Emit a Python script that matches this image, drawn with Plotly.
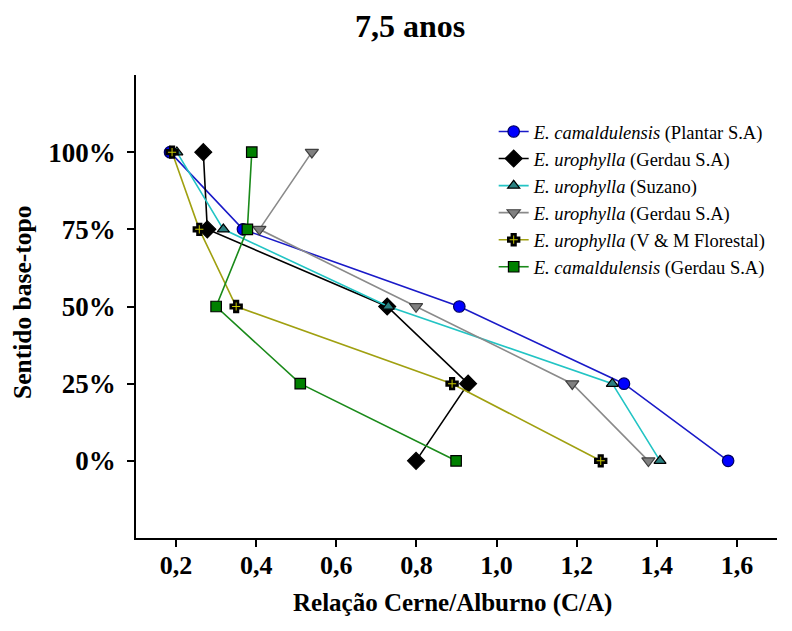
import plotly.graph_objects as go

heights = [100, 75, 50, 25, 0]
height_labels = ["100%", "75%", "50%", "25%", "0%"]

cam_plantar = [0.185, 0.367, 0.907, 1.318, 1.578]
uro_gerdau_a = [0.268, 0.278, 0.727, 0.929, 0.799]
uro_suzano = [0.202, 0.318, 0.730, 1.289, 1.408]
uro_gerdau_b = [0.539, 0.408, 0.799, 1.189, 1.379]
uro_vm = [0.190, 0.258, 0.350, 0.889, 1.260]
cam_gerdau = [0.389, 0.378, 0.300, 0.510, 0.899]

x_ticks = [0.2, 0.4, 0.6, 0.8, 1.0, 1.2, 1.4, 1.6]
x_tick_labels = ["0,2", "0,4", "0,6", "0,8", "1,0", "1,2", "1,4", "1,6"]

series = [
    ("<i>E. camaldulensis</i> (Plantar S.A)", cam_plantar, "#1A1AC8", "circle", "#0000FF", "#000060", 11.5, 1.2),
    ("<i>E. urophylla</i> (Gerdau S.A)", uro_gerdau_a, "#000000", "diamond", "#000000", "#000000", 13, 1.2),
    ("<i>E. urophylla</i> (Suzano)", uro_suzano, "#22C4C4", "triangle-up", "#2A8080", "#000000", 10.5, 1.2),
    ("<i>E. urophylla</i> (Gerdau S.A)", uro_gerdau_b, "#8A8A8A", "triangle-down", "#808080", "#404040", 11.5, 1.2),
    ("<i>E. urophylla</i> (V &amp; M Florestal)", uro_vm, "#A0A010", "cross", "#C8C800", "#000000", 9, 2.6),
    ("<i>E. camaldulensis</i> (Gerdau S.A)", cam_gerdau, "#1A8A1A", "square", "#008000", "#000000", 10.5, 1.2),
]

fig = go.Figure()
for name, xs, lc, sym, fc, mlc, ms, mlw in series:
    fig.add_trace(go.Scatter(
        x=xs, y=heights, name=name, mode="lines+markers",
        line=dict(color=lc, width=1.6),
        marker=dict(symbol=sym, color=fc, size=ms, line=dict(color=mlc, width=mlw)),
    ))

FONT = "Liberation Serif"
fig.update_layout(
    width=792, height=631,
    margin=dict(l=128, r=23, t=67, b=101),
    paper_bgcolor="white", plot_bgcolor="white",
    font=dict(family=FONT, color="black"),
    title=dict(text="<b>7,5 anos</b>", x=0.5076, xref="container", xanchor="center",
               y=0.972, yref="container", yanchor="middle",
               font=dict(family=FONT, size=32, color="black")),
    showlegend=True,
    legend=dict(x=0.558, y=0.918, xanchor="left", yanchor="top",
                font=dict(family=FONT, size=18.5, color="black"),
                bgcolor="rgba(0,0,0,0)", borderwidth=0),
    xaxis=dict(range=[0.1, 1.7], tickvals=x_ticks,
               ticktext=["<b>%s</b>" % t for t in x_tick_labels],
               showgrid=False, zeroline=False, showline=True, linecolor="black", linewidth=1.5,
               ticks="outside", ticklen=7, tickwidth=1.5, tickcolor="black",
               tickfont=dict(family=FONT, size=26, color="black"), ticklabelstandoff=-4),
    yaxis=dict(range=[-25, 125], tickvals=heights,
               ticktext=["<b>%s</b>" % t for t in height_labels],
               showgrid=False, zeroline=False, showline=True, linecolor="black", linewidth=1.5,
               ticks="outside", ticklen=7, tickwidth=1.5, tickcolor="black",
               tickfont=dict(family=FONT, size=27, color="black"), ticklabelstandoff=6),
)

fig.add_annotation(text="<b>Relação Cerne/Alburno (C/A)</b>", xref="paper", yref="paper",
                   x=(444 - 128) / 641, y=-65 / 463, xanchor="center", yanchor="middle",
                   showarrow=False, font=dict(family=FONT, size=25, color="black"))
fig.add_annotation(text="<b>Sentido base-topo</b>", xref="paper", yref="paper",
                   x=-(128 - 14) / 641, y=(530 - 295) / 463, xanchor="center", yanchor="middle",
                   textangle=-90, showarrow=False, font=dict(family=FONT, size=25.5, color="black"))

fig.write_html("out.html")
